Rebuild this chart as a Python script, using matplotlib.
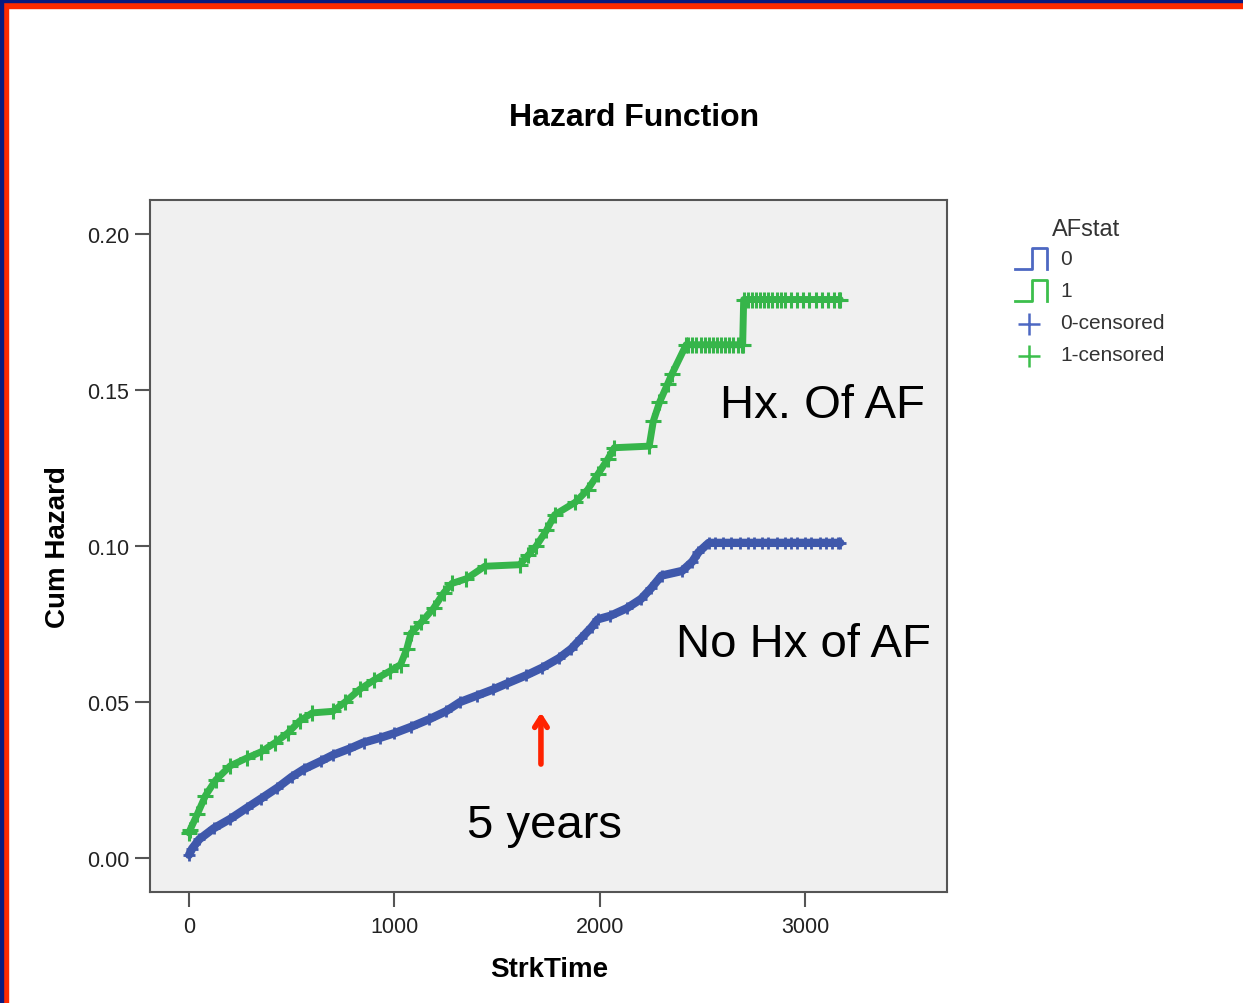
import matplotlib.pyplot as plt
from matplotlib.patches import Rectangle

plt.rcParams['font.family'] = ['Liberation Sans', 'DejaVu Sans']

# AFstat = 0 (no history of AF): event times (days) and cumulative hazard
t0 = [0, 15, 50, 120, 200, 280, 350, 430, 500, 560, 640, 700, 780, 850, 930,
      1000, 1080, 1170, 1250, 1320, 1400, 1480, 1550, 1640, 1720, 1800, 1860,
      1910, 1960, 1990, 2050, 2130, 2200, 2250, 2300, 2400, 2450, 2480, 2530, 3170]
h0 = [0.0010, 0.0030, 0.0060, 0.0095, 0.0125, 0.0160, 0.0190, 0.0225, 0.0260,
      0.0285, 0.0310, 0.0330, 0.0350, 0.0370, 0.0385, 0.0400, 0.0420, 0.0445,
      0.0470, 0.0500, 0.0520, 0.0540, 0.0560, 0.0585, 0.0610, 0.0640, 0.0670,
      0.0705, 0.0740, 0.0765, 0.0776, 0.0800, 0.0830, 0.0865, 0.0905, 0.0920,
      0.0950, 0.0980, 0.1010, 0.1010]

# AFstat = 1 (history of AF)
t1 = [0, 5, 40, 80, 130, 200, 280, 350, 420, 480, 540, 600, 700, 760, 830, 900,
      980, 1030, 1060, 1080, 1130, 1190, 1240, 1280, 1350, 1440, 1610, 1650,
      1690, 1740, 1780, 1880, 1940, 1990, 2040, 2070, 2240, 2260, 2290, 2330,
      2350, 2420, 2695, 2700, 3170]
h1 = [0.0080, 0.0090, 0.0140, 0.0200, 0.0250, 0.0295, 0.0320, 0.0340, 0.0370,
      0.0400, 0.0440, 0.0465, 0.0470, 0.0500, 0.0540, 0.0570, 0.0600, 0.0620,
      0.0670, 0.0720, 0.0755, 0.0800, 0.0850, 0.0880, 0.0895, 0.0935, 0.0940,
      0.0970, 0.1000, 0.1050, 0.1100, 0.1140, 0.1180, 0.1230, 0.1280, 0.1315,
      0.1320, 0.1400, 0.1460, 0.1520, 0.1550, 0.1645, 0.1645, 0.1790, 0.1790]

# censored cases on the flat tails
c0_t = [2560, 2600, 2640, 2680, 2720, 2750, 2790, 2820, 2860, 2900, 2930, 2960,
        3000, 3030, 3070, 3100, 3130, 3160]
c0_h = [0.101] * len(c0_t)
c1_t = [2430, 2450, 2470, 2490, 2510, 2530, 2550, 2570, 2590, 2610, 2630, 2650,
        2670, 2690, 2720, 2740, 2760, 2780, 2800, 2820, 2840, 2860, 2880, 2900,
        2930, 2960, 2990, 3020, 3050, 3080, 3110, 3140, 3165]
c1_h = [0.1645] * 14 + [0.179] * 19

xticks = [0, 1000, 2000, 3000]
yticks = [0.00, 0.05, 0.10, 0.15, 0.20]

blue = '#3f58ab'
green = '#36b54a'
frame = '#555555'

fig = plt.figure(figsize=(12.43, 10.04), dpi=100)
fig.patch.set_facecolor('white')

ax = fig.add_axes([0.1207, 0.1106, 0.6412, 0.6892])
ax.set_facecolor('#f0f0f0')

ax.plot(t0, h0, color=blue, lw=6, solid_capstyle='round')
ax.plot(t0, h0, ls='none', marker='+', ms=9, mew=2, color=blue)
ax.plot(c0_t, c0_h, ls='none', marker='+', ms=9, mew=2, color=blue)
ax.plot(t1, h1, color=green, lw=5, solid_capstyle='round')
ax.plot(t1, h1, ls='none', marker='+', ms=11, mew=2.2, color=green)
ax.plot(c1_t, c1_h, ls='none', marker='+', ms=11, mew=2.2, color=green)

ax.set_xlim(-190, 3690)
ax.set_ylim(-0.0109, 0.2109)
ax.set_xticks(xticks)
ax.set_xticklabels([str(v) for v in xticks])
ax.set_yticks(yticks)
ax.set_yticklabels(['%.2f' % v for v in yticks])

for s in ax.spines.values():
    s.set_color(frame)
    s.set_linewidth(1.5)
ax.tick_params(direction='out', length=11, width=1.5, color=frame,
               labelsize=15.5, labelcolor='#222222')
ax.tick_params(axis='x', pad=6)
ax.tick_params(axis='y', pad=4)

ax.set_xlabel('StrkTime', fontsize=20, fontweight='bold')
ax.xaxis.set_label_coords(0.5006, -0.0925)
ax.set_ylabel('Cum Hazard', fontsize=20, fontweight='bold', va='center')
ax.yaxis.set_label_coords(-0.1154, 0.5)

fig.text(0.5101, 0.8825, 'Hazard Function', fontsize=23, fontweight='bold',
         ha='center', va='center')

# annotations on the plot
ax.text(2584, 0.1413, 'Hx. Of AF', fontsize=34, ha='left', va='baseline')
ax.text(2370, 0.0647, 'No Hx of AF', fontsize=34, ha='left', va='baseline')
ax.text(1353, 0.0067, '5 years', fontsize=34, ha='left', va='baseline')
ax.annotate('', xy=(1713, 0.0475), xytext=(1713, 0.0292),
            arrowprops=dict(arrowstyle='->,head_width=0.45,head_length=0.7',
                            color='#ff2200', lw=4))

# legend drawn in pixel space
lax = fig.add_axes([0, 0, 1, 1], zorder=-1)
lax.set_xlim(0, 1243)
lax.set_ylim(1004, 0)
lax.axis('off')
lblue = '#4d68c2'
lgreen = '#3cbf4c'
lax.text(1052, 230, 'AFstat', fontsize=17, va='center', ha='left', color='#333333')
for y, c in [(270, lblue), (302, lgreen)]:
    lax.plot([1015, 1032, 1032, 1047, 1047], [y, y, y - 21, y - 21, y],
             color=c, lw=2)
lax.text(1060, 260, '0', fontsize=15, va='center', ha='left', color='#333333')
lax.text(1060, 292, '1', fontsize=15, va='center', ha='left', color='#333333')
lax.plot([1029], [325], ls='none', marker='+', ms=16, mew=1.8, color=lblue)
lax.plot([1029], [357], ls='none', marker='+', ms=16, mew=1.8, color=lgreen)
lax.text(1060, 324, '0-censored', fontsize=15, va='center', ha='left', color='#333333')
lax.text(1060, 356, '1-censored', fontsize=15, va='center', ha='left', color='#333333')

# slide border (top and left)
fig.patches.append(Rectangle((0, 1 - 9 / 1004), 1, 9 / 1004, transform=fig.transFigure,
                             color='#ff2a00', zorder=10))
fig.patches.append(Rectangle((0, 0), 8 / 1243, 1, transform=fig.transFigure,
                             color='#ff2a00', zorder=10))
fig.patches.append(Rectangle((0, 1 - 3 / 1004), 1, 3 / 1004, transform=fig.transFigure,
                             color='#0a1a80', zorder=11))
fig.patches.append(Rectangle((0, 0), 3 / 1243, 1, transform=fig.transFigure,
                             color='#0a1a80', zorder=11))

fig.savefig('out.png', dpi=100)
